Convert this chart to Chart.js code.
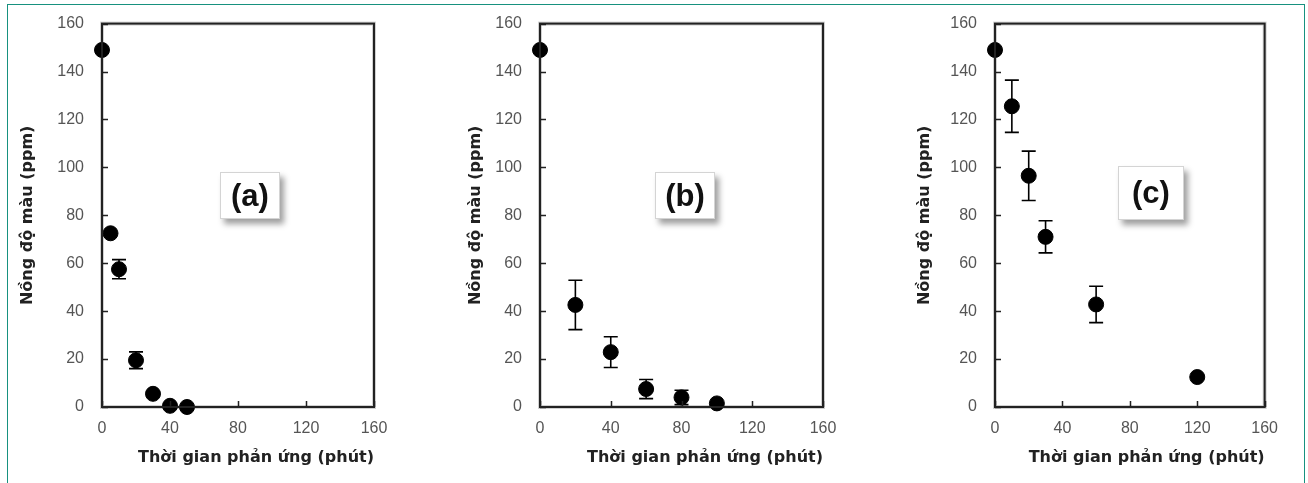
<!DOCTYPE html>
<html lang="vi">
<head>
  <meta charset="UTF-8" />
  <title>Nồng độ màu theo thời gian phản ứng</title>
  <script src="https://cdn.jsdelivr.net/npm/chart.js"></script>
  <style>
    body { margin: 0; background: #fff; width: 1308px; height: 483px; overflow: hidden; position: relative; }
    .frame {
      position: absolute; left: 7px; top: 4px; width: 1296px; height: 520px;
      border: 1.5px solid #17917f; border-bottom: none;
    }
    .panel { position: absolute; top: -4px; width: 400px; height: 484px; }
    .tag {
      position: absolute; background: #fff; border: 1px solid #d4d4d4;
      box-shadow: 4px 5px 6px rgba(0,0,0,0.38);
      font: bold 31px "Liberation Sans", Arial, sans-serif; color: #111;
      display: flex; align-items: center; justify-content: center;
    }
  </style>
</head>
<body>
  <div class="frame"></div>
  <div class="panel" style="left:10px"><canvas id="chartA"></canvas></div>
  <div class="panel" style="left:450px"><canvas id="chartB"></canvas></div>
  <div class="panel" style="left:890px"><canvas id="chartC"></canvas></div>
  <div class="tag" style="left:220px;top:172px;width:58px;height:45px">(a)</div>
  <div class="tag" style="left:655px;top:172px;width:58px;height:45px">(b)</div>
  <div class="tag" style="left:1118px;top:166px;width:64px;height:52px">(c)</div>

  <script>
    // thời gian (phút), nồng độ màu (ppm), sai số
    const timeA = [0, 5, 10, 20, 30, 40, 50];
    const colorA = [149, 72.5, 57.5, 19.5, 5.5, 0.5, 0];
    const errA = [0, 0, 4, 3.5, 0, 0, 0];

    const timeB = [0, 20, 40, 60, 80, 100];
    const colorB = [149, 42.6, 22.9, 7.5, 4, 1.5];
    const errB = [0, 10.3, 6.4, 4, 3, 0];

    const timeC = [0, 10, 20, 30, 60, 120];
    const colorC = [149, 125.5, 96.5, 71, 42.8, 12.5];
    const errC = [0, 10.9, 10.3, 6.7, 7.6, 0];

    const xTitle = "Thời gian phản ứng (phút)";
    const yTitle = "Nồng độ màu (ppm)";

    const frameAndTicks = {
      id: "frameAndTicks",
      afterDraw(chart) {
        const { ctx, chartArea: a, scales } = chart;
        ctx.save();
        ctx.strokeStyle = "#222";
        ctx.lineWidth = 1.5;
        ctx.beginPath();
        scales.y.ticks.forEach(t => {
          const py = Math.round(scales.y.getPixelForValue(t.value)) + 0.5;
          ctx.moveTo(a.left, py);
          ctx.lineTo(a.left + 6, py);
        });
        scales.x.ticks.forEach(t => {
          const px = Math.round(scales.x.getPixelForValue(t.value)) + 0.5;
          ctx.moveTo(px, a.bottom);
          ctx.lineTo(px, a.bottom - 6);
        });
        ctx.stroke();
        ctx.strokeStyle = "rgba(0,0,0,0.18)";
        ctx.lineWidth = 4;
        ctx.strokeRect(a.left, a.top, a.right - a.left, a.bottom - a.top);
        ctx.strokeStyle = "#222";
        ctx.lineWidth = 2;
        ctx.strokeRect(a.left, a.top, a.right - a.left, a.bottom - a.top);
        ctx.restore();
      }
    };

    const errorBars = {
      id: "errorBars",
      afterDatasetsDraw(chart) {
        const { ctx, scales } = chart;
        const ds = chart.data.datasets[0];
        ctx.save();
        ctx.strokeStyle = "#000";
        ctx.lineWidth = 1.6;
        ds.data.forEach((p, i) => {
          const e = ds.errors[i];
          if (!e) return;
          const px = scales.x.getPixelForValue(p.x);
          const top = scales.y.getPixelForValue(p.y + e);
          const bot = scales.y.getPixelForValue(p.y - e);
          ctx.beginPath();
          ctx.moveTo(px, top); ctx.lineTo(px, bot);
          ctx.moveTo(px - 7, top); ctx.lineTo(px + 7, top);
          ctx.moveTo(px - 7, bot); ctx.lineTo(px + 7, bot);
          ctx.stroke();
        });
        ctx.restore();
      }
    };

    function makePanel(id, times, values, errors, yWidth, padRight, yTitlePad) {
      const points = times.map((t, i) => ({ x: t, y: values[i] }));
      const tickFont = { family: "Liberation Sans", size: 16 };
      const titleFont = { family: "DejaVu Sans", size: 16, weight: "bold" };
      return new Chart(document.getElementById(id), {
        type: "scatter",
        data: {
          datasets: [{
            data: points,
            errors: errors,
            pointRadius: 7.5,
            pointHoverRadius: 7.5,
            backgroundColor: "#000",
            borderColor: "#000",
            clip: false
          }]
        },
        options: {
          responsive: true,
          maintainAspectRatio: false,
          animation: false,
          events: [],
          layout: { autoPadding: false, padding: { top: 3, right: padRight, left: 0, bottom: 0 } },
          plugins: { legend: { display: false }, tooltip: { enabled: false } },
          scales: {
            x: {
              type: "linear", min: 0, max: 160,
              ticks: { stepSize: 40, color: "#555", font: tickFont, padding: 12 },
              grid: { display: false, drawTicks: false, tickLength: 0 },
              border: { display: false },
              title: { display: true, text: xTitle, align: "end", color: "#222", font: titleFont, padding: { top: 0, bottom: 13 } },
              afterFit(scale) { scale.height = 73; }
            },
            y: {
              type: "linear", min: 0, max: 160,
              ticks: { stepSize: 20, color: "#555", font: tickFont, padding: 18 },
              grid: { display: false, drawTicks: false, tickLength: 0 },
              border: { display: false },
              title: { display: true, text: yTitle, color: "#222", font: titleFont, padding: { top: yTitlePad, bottom: 0 } },
              afterFit(scale) { scale.width = yWidth; }
            }
          }
        },
        plugins: [errorBars, frameAndTicks]
      });
    }

    makePanel("chartA", timeA, colorA, errA, 92, 36, 8);
    makePanel("chartB", timeB, colorB, errB, 90, 27, 16);
    makePanel("chartC", timeC, colorC, errC, 105, 21, 25);
  </script>
</body>
</html>
